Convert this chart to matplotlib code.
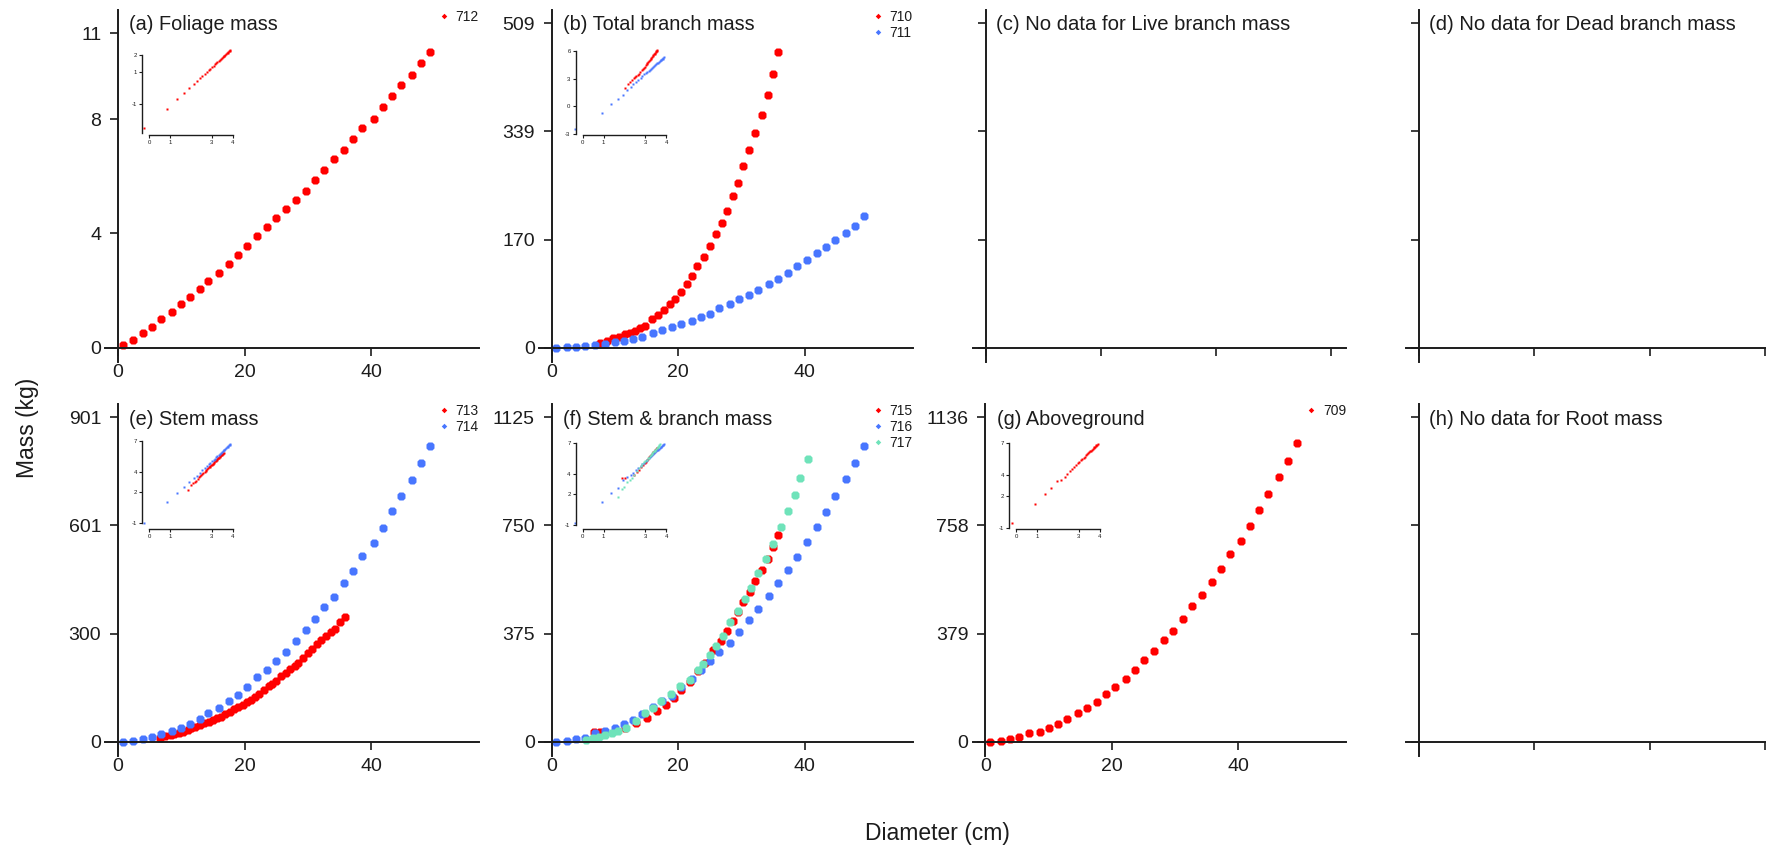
import numpy as np
import matplotlib
matplotlib.use("Agg")
import matplotlib.pyplot as plt
from matplotlib.lines import Line2D

plt.rcParams['font.family'] = ['Liberation Sans', 'DejaVu Sans']

RED = '#FF0000'
BLUE = '#4876FF'
GREEN = '#6FE3BA'
INK = '#1c1c1c'

# ---------------- data (diameter cm, mass kg) ----------------
# (a) Foliage mass
d712 = [0.8, 2.4, 3.9, 5.3, 6.8, 8.5, 10.0, 11.4, 12.9, 14.3, 16.0, 17.5, 19.0, 20.4, 22.0, 23.6, 25.0,
        26.5, 28.2, 29.7, 31.1, 32.5, 34.2, 35.7, 37.2, 38.6, 40.4, 41.8, 43.3, 44.7, 46.4, 47.8, 49.3]
m712 = [0.08, 0.26, 0.50, 0.73, 0.99, 1.26, 1.52, 1.78, 2.04, 2.34, 2.60, 2.93, 3.24, 3.57, 3.90, 4.21, 4.54,
        4.86, 5.18, 5.50, 5.87, 6.22, 6.59, 6.92, 7.31, 7.70, 8.01, 8.41, 8.79, 9.18, 9.55, 9.95, 10.33]

# (b) Total branch mass
d710 = [7.6, 8.7, 9.7, 10.7, 11.6, 12.3, 13.1, 13.9, 14.7, 15.8, 16.8, 17.7, 18.7, 19.5, 20.4, 21.3,
        22.2, 23.0, 24.0, 25.0, 25.9, 26.9, 27.7, 28.6, 29.4, 30.3, 31.2, 32.1, 33.2, 34.1, 34.9, 35.8]
m710 = [7.8, 11, 14.6, 17.3, 20.9, 23.5, 26.7, 30.3, 34.5, 44.5, 51.3, 59.1, 68.5, 76.4, 87.4, 99.4,
        113, 128.7, 142.8, 160.1, 177.9, 195.1, 215, 238, 258.4, 284.6, 310.2, 336.4, 365.1, 397, 429, 463.5]
d711 = [0.7, 2.5, 3.8, 5.3, 6.8, 8.4, 10.0, 11.4, 12.9, 14.3, 16.0, 17.5, 19.0, 20.4, 22.2, 23.6, 25.0,
        26.5, 28.2, 29.6, 31.1, 32.6, 34.3, 35.8, 37.3, 38.7, 40.4, 41.9, 43.4, 44.8, 46.5, 47.9, 49.4]
m711 = [0.09, 0.5, 1.3, 2.3, 3.6, 5.8, 8.4, 11, 13.8, 17.5, 22.6, 27.7, 33, 37.1, 42.4, 47.6, 52.8,
        61.7, 68, 75.9, 82.2, 90.5, 99.4, 108.3, 116.7, 128.2, 137.6, 148.1, 157.5, 169, 180.5, 191.5, 206.7]

# (e) Stem mass
d713 = [6.6, 7.4, 8.3, 8.9, 9.7, 10.3, 11.0, 11.6, 12.2, 12.9, 13.6, 14.4, 15.0, 15.6, 16.2, 16.9, 17.7,
        18.3, 18.9, 19.7, 20.4, 21.0, 21.7, 22.3, 23.0, 23.8, 24.4, 25.0, 25.8, 26.5, 27.2, 27.9, 28.5,
        29.3, 30.0, 30.6, 31.4, 32.1, 32.9, 33.7, 34.3, 35.0, 35.8]
m713 = [9.3, 15.8, 18.6, 20.5, 23.3, 27.9, 32.6, 37.3, 41.9, 46.6, 51.2, 55.9, 60.6, 65.2, 69.9, 77.3, 83.9,
        90.4, 96.0, 102.5, 110.9, 116.5, 123.1, 131.5, 144.5, 153.8, 161.3, 167.8, 181.8, 191.1, 202.3, 211.6,
        219.1, 233.0, 247.0, 256.5, 270.4, 282.5, 293.7, 304.9, 314.2, 332.8, 347.7]
d714 = [0.8, 2.4, 3.9, 5.3, 6.8, 8.5, 10.0, 11.4, 12.9, 14.3, 16.0, 17.5, 19.0, 20.4, 22.0, 23.6, 25.0,
        26.5, 28.2, 29.7, 31.1, 32.5, 34.2, 35.7, 37.2, 38.6, 40.4, 41.8, 43.3, 44.7, 46.4, 47.8, 49.3]
m714 = [0.4, 2.9, 7.0, 13, 21, 29, 37, 49, 64, 79, 93, 112, 130, 152, 179, 198, 223,
        249, 280, 310, 342, 373, 403, 440, 475, 517, 553, 593, 640, 682, 728, 773, 820]

# (f) Stem & branch mass
d715 = [6.7, 7.6, 11.6, 13.4, 15.0, 16.6, 18.1, 19.4, 20.5, 21.8, 23.1, 24.3, 25.5, 26.8, 27.7, 28.6,
        29.4, 30.3, 31.3, 32.1, 33.3, 34.2, 34.9, 35.8]
m715 = [35, 35, 46.6, 66, 82, 105, 128, 152, 181, 206, 245, 274, 318, 350, 385, 417,
        449, 484, 519, 556, 595, 633, 676, 717]
d716 = [0.7, 2.5, 3.8, 5.3, 6.8, 8.4, 10.0, 11.4, 12.9, 14.3, 16.0, 17.5, 19.0, 20.4, 22.2, 23.6, 25.0,
        26.5, 28.2, 29.6, 31.1, 32.6, 34.3, 35.8, 37.3, 38.7, 40.4, 41.9, 43.4, 44.8, 46.5, 47.9, 49.4]
m716 = [0.45, 3.3, 8.2, 14, 29, 38.5, 46.6, 61.8, 75.8, 96.8, 120, 140, 160, 190, 216, 248, 280,
        312, 344, 382, 422, 460, 505, 550, 596, 641, 691, 744, 795, 853, 912, 968, 1026]
d717 = [5.5, 6.6, 7.4, 8.4, 9.5, 10.5, 11.8, 13.4, 14.8, 16.0, 17.3, 18.9, 20.2, 21.8, 23.1, 23.9,
        25.0, 26.0, 27.1, 28.1, 29.4, 30.5, 31.5, 32.6, 33.8, 34.9, 36.2, 37.3, 38.4, 39.3, 40.5]
m717 = [5.8, 11.7, 15.2, 23.3, 29.1, 37.3, 46.6, 73.4, 99, 116.6, 140, 166.7, 192.3, 215.7, 247, 270,
        300, 332, 367, 414, 455, 495, 533, 586, 633, 685, 744, 799, 857, 915, 982]

# (g) Aboveground
d709 = [0.8, 2.5, 3.9, 5.4, 6.9, 8.6, 10.1, 11.5, 12.9, 14.7, 16.1, 17.6, 19.0, 20.5, 22.2, 23.6, 25.1,
        26.6, 28.3, 29.7, 31.2, 32.7, 34.3, 35.8, 37.3, 38.7, 40.4, 41.8, 43.2, 44.7, 46.4, 47.8, 49.3]
m709 = [0.6, 3.6, 9.0, 16, 29.7, 35.6, 47.5, 62.9, 80.7, 101, 119, 140, 166, 193, 220, 252, 285,
        317, 356, 389, 430, 475, 514, 560, 605, 659, 704, 757, 810, 869, 928, 985, 1045]

# ---------------- panel definitions ----------------
panels = [
    dict(r=0, c=0, title='(a) Foliage mass', series=[('712', d712, m712, RED)],
         ytop=11.0, yref=11.35, yticks=[0, 4, 8, 11], iyt=[-1, 1, 2], ib=(-2.8, 2)),
    dict(r=0, c=1, title='(b) Total branch mass',
         series=[('710', d710, m710, RED), ('711', d711, m711, BLUE)],
         ytop=509, yref=509, yticks=None, iyt=[-3, 0, 3, 6], ib=(-3, 6)),
    dict(r=0, c=2, title='(c) No data for Live branch mass', series=None),
    dict(r=0, c=3, title='(d) No data for Dead branch mass', series=None),
    dict(r=1, c=0, title='(e) Stem mass',
         series=[('713', d713, m713, RED), ('714', d714, m714, BLUE)],
         ytop=901, yref=901, yticks=None, iyt=[-1, 2, 4, 7], ib=(-1, 7)),
    dict(r=1, c=1, title='(f) Stem & branch mass',
         series=[('715', d715, m715, RED), ('716', d716, m716, BLUE), ('717', d717, m717, GREEN)],
         ytop=1125, yref=1125, yticks=None, iyt=[-1, 2, 4, 7], ib=(-1, 7)),
    dict(r=1, c=2, title='(g) Aboveground', series=[('709', d709, m709, RED)],
         ytop=1136.4, yref=1136.4, yticks=None, iyt=[-1, 2, 4, 7], ib=(-1, 7)),
    dict(r=1, c=3, title='(h) No data for Root mass', series=None),
]

W, H = 1766, 849
fig = plt.figure(figsize=(W / 100, H / 100), dpi=100)

COL_X0 = [118, 551.7, 985.3, 1419]   # pixel of x = 0
ROW_TOP = [10, 404]
AX_W, AX_H = 373.5, 352


def rect(left, top, w, h):
    return [left / W, 1 - (top + h) / H, w / W, h / H]


def style_main(ax):
    for s in ('top', 'right'):
        ax.spines[s].set_visible(False)
    for s in ('left', 'bottom'):
        ax.spines[s].set_position(('data', 0))
        ax.spines[s].set_linewidth(1.4)
        ax.spines[s].set_color(INK)
    ax.tick_params(direction='out', length=6, width=1.2, color=INK,
                   labelsize=14, labelcolor=INK, pad=6)


for p in panels:
    r, c = p['r'], p['c']
    ax = fig.add_axes(rect(COL_X0[c] - 12.7, ROW_TOP[r], AX_W, AX_H))
    style_main(ax)
    ax.patch.set_alpha(0)
    if p['series'] is None:
        ax.set_xlim(-0.112, 3.13)
        ax.set_ylim(-0.044 * 3, 1.041 * 3)
        ax.set_xticks([0, 1, 2, 3])
        ax.set_yticks([0, 1, 2, 3])
        ax.set_xticklabels([])
        ax.set_yticklabels([])
        ax.annotate(p['title'], xy=(0, 1), xycoords='axes fraction', xytext=(23, -15),
                    textcoords='offset pixels', ha='left', va='center', fontsize=14.6,
                    color=INK, family=['Liberation Sans Narrow', 'Liberation Sans', 'DejaVu Sans'])
        continue

    ax.set_xlim(-2, 57)
    ax.set_ylim(-0.044 * p['yref'], 1.041 * p['yref'])
    ax.set_xticks([0, 20, 40])
    ax.set_xticklabels(['0', '20', '40'])
    if p['yticks'] is not None:
        yt = p['yticks']
    else:
        yt = list(np.linspace(0, p['ytop'], 4))
    ax.set_yticks(yt)
    ax.set_yticklabels([f'{v:.0f}' for v in yt])

    handles = []
    for lab, d, m, col in p['series']:
        ax.plot(d, m, ls='none', marker='8', ms=5.8, color=col, mec='none', clip_on=False)
        handles.append(Line2D([], [], ls='none', marker='D', ms=2.8, color=col, mec='none'))

    ax.annotate(p['title'], xy=(0, 1), xycoords='axes fraction', xytext=(24, -15),
                textcoords='offset pixels', ha='left', va='center', fontsize=14.3, color=INK)

    leg = ax.legend(handles, [s[0] for s in p['series']], loc='upper right',
                    bbox_to_anchor=(1.0, 1.0), frameon=False, fontsize=10,
                    handlelength=0.7, handletextpad=0.5, labelspacing=0.15,
                    borderpad=0, borderaxespad=0)
    for t in leg.get_texts():
        t.set_color(INK)

    # ---- log-log inset ----
    lx = [np.log(np.asarray(s[1], float)) for s in p['series']]
    ly = [np.log(np.asarray(s[2], float)) for s in p['series']]
    dmin = min(v.min() for v in ly)
    dmax = max(v.max() for v in ly)
    sc = 78.5 / (dmax - dmin)
    ins = fig.add_axes(rect(COL_X0[c] + 24, ROW_TOP[r] + 36, 90.5, 89))
    ins.patch.set_alpha(0)
    ins.set_xlim(-0.335, 4.0)
    ins.set_ylim(dmin - 6.5 / sc, dmax + 4 / sc)
    for (lab, d, m, col), xx, yy in zip(p['series'], lx, ly):
        ins.plot(xx, yy, ls='none', marker='s', ms=2.1, color=col, mec='none', clip_on=False)
    for s in ('top', 'right'):
        ins.spines[s].set_visible(False)
    for s in ('left', 'bottom'):
        ins.spines[s].set_linewidth(1.0)
        ins.spines[s].set_color(INK)
    ins.spines['bottom'].set_bounds(0, 4)
    ins.spines['left'].set_bounds(*p['ib'])
    ins.set_xticks([0, 1, 3, 4])
    ins.set_xticklabels(['0', '1', '3', '4'])
    ins.set_yticks(p['iyt'])
    ins.set_yticklabels([str(v) for v in p['iyt']])
    ins.tick_params(direction='out', length=2.2, width=0.8, color=INK,
                    labelsize=4.3, labelcolor=INK, pad=1.5)

fig.text(28 / W, 1 - 428 / H, 'Mass (kg)', rotation=90, ha='center', va='center',
         fontsize=16.5, color=INK)
fig.text(937 / W, 1 - 833.5 / H, 'Diameter (cm)', ha='center', va='center',
         fontsize=16.5, color=INK)

fig.savefig('out.png', dpi=100, facecolor='white')
